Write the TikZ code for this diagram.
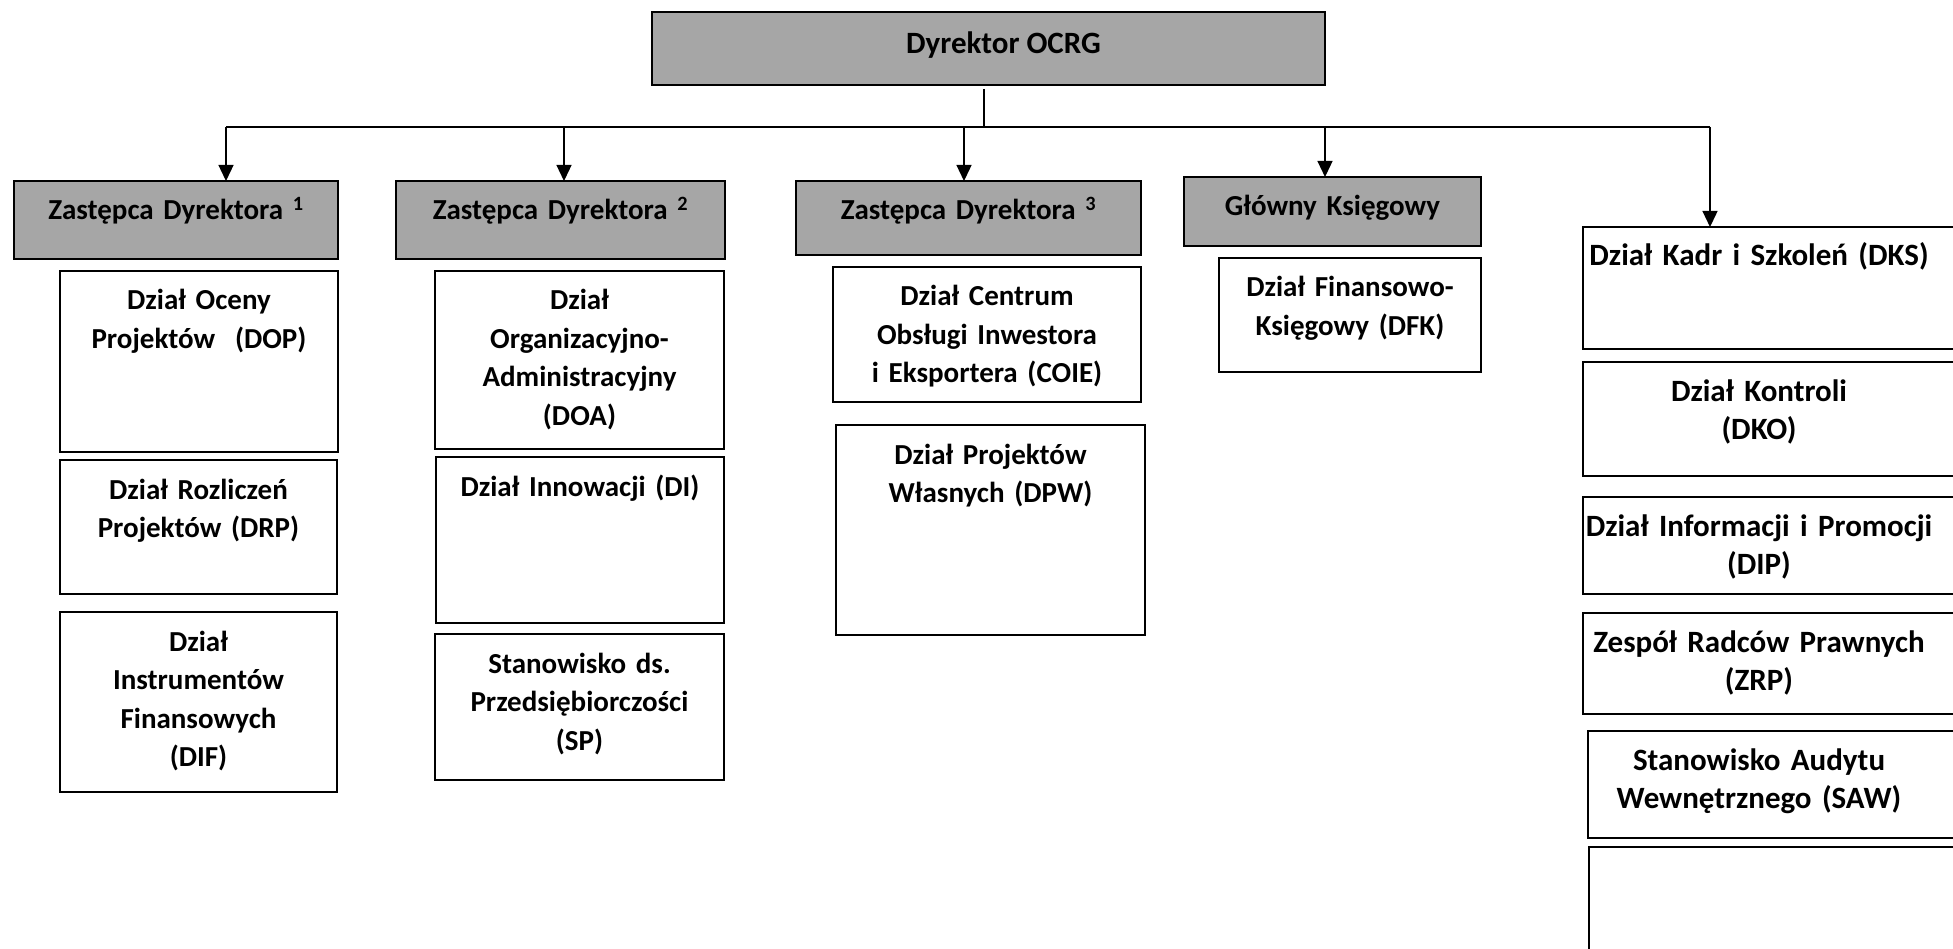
\documentclass[tikz,border=0pt]{standalone}
\usepackage{fontspec}
\setmainfont{Carlito}
\usetikzlibrary{arrows.meta,calc}
\definecolor{hdr}{HTML}{A6A6A6}
\tikzset{
  basebox/.style={draw=black, line width=2pt, inner sep=0pt, outer sep=0pt},
  hbox/.style={basebox, fill=hdr},
  wbox/.style={basebox, fill=white},
  txt/.style={font=\fontsize{29}{38.5}\selectfont\bfseries, align=center, inner sep=0pt, anchor=base},
  rtxt/.style={txt, font=\fontsize{31}{38.5}\selectfont\bfseries},
  conn/.style={line width=1.3pt, black},
  arr/.style={conn, -{Triangle[width=15pt,length=16pt]}},
}
\newcommand{\mkbox}[6]{%
  \node[#2, anchor=north west, minimum width={(#5)-(#3)}, minimum height={(#6)-(#4)}] (#1) at (#3,#4) {};}
\newcommand{\mktxt}[3]{%
  \node[txt, text width=400pt] (#1-t) at ([yshift=-#2pt]#1.north) {#3};}
\newcommand{\mkrtxt}[3]{%
  \node[rtxt, text width=400pt] (#1-t) at ([yshift=-39pt,xshift=#2pt]#1.north west) {#3};}
\begin{document}
\begin{tikzpicture}[x=1pt,y=-1pt]
\useasboundingbox (0,0) rectangle (1953,949);
\clip (0,0) rectangle (1953,949);
\fill[white] (0,0) rectangle (1953,949);

% top
\mkbox{dyr}{hbox}{652}{12}{1325}{85}
\node[rtxt, anchor=center] (dyr-t) at ([yshift=3pt,xshift=15pt]dyr.center) {Dyrektor OCRG};

% second level
\mkbox{zd1}{hbox}{14}{181}{338}{259}
\mktxt{zd1}{39}{Zastępca Dyrektora \textsuperscript{1}}
\mkbox{zd2}{hbox}{396}{181}{725}{259}
\mktxt{zd2}{39}{Zastępca Dyrektora \textsuperscript{2}}
\mkbox{zd3}{hbox}{796}{181}{1141}{255}
\mktxt{zd3}{39}{Zastępca Dyrektora \textsuperscript{3}}
\mkbox{gk}{hbox}{1184}{177}{1481}{246}
\mktxt{gk}{39}{Główny Księgowy}

% column 1
\mkbox{dop}{wbox}{60}{271}{338}{452}
\mktxt{dop}{39}{Dział Oceny\\Projektów\hspace{0.35em} (DOP)}
\mkbox{drp}{wbox}{60}{460}{337}{594}
\mktxt{drp}{39}{Dział Rozliczeń\\Projektów (DRP)}
\mkbox{dif}{wbox}{60}{612}{337}{792}
\mktxt{dif}{39}{Dział\\Instrumentów\\Finansowych\\(DIF)}

% column 2
\mkbox{doa}{wbox}{435}{271}{724}{449}
\mktxt{doa}{39}{Dział\\Organizacyjno-\\Administracyjny\\(DOA)}
\mkbox{di}{wbox}{436}{457}{724}{623}
\mktxt{di}{39}{Dział Innowacji (DI)}
\mkbox{sp}{wbox}{435}{634}{724}{780}
\mktxt{sp}{39}{Stanowisko ds.\\Przedsiębiorczości\\(SP)}

% column 3
\mkbox{coie}{wbox}{833}{267}{1141}{402}
\mktxt{coie}{39}{Dział Centrum\\Obsługi Inwestora\\i Eksportera (COIE)}
\mkbox{dpw}{wbox}{836}{425}{1145}{635}
\mktxt{dpw}{39}{Dział Projektów\\Własnych (DPW)}

% column 4
\mkbox{dfk}{wbox}{1219}{258}{1481}{372}
\mktxt{dfk}{39}{Dział Finansowo-\\Księgowy (DFK)}

% column 5
\mkbox{dks}{wbox}{1583}{227}{1975}{349}
\mkrtxt{dks}{176}{Dział Kadr i Szkoleń (DKS)}
\mkbox{dko}{wbox}{1583}{362}{1975}{476}
\mkrtxt{dko}{176}{Dział Kontroli\\(DKO)}
\mkbox{dip}{wbox}{1583}{497}{1975}{594}
\mkrtxt{dip}{176}{Dział Informacji i Promocji\\(DIP)}
\mkbox{zrp}{wbox}{1583}{613}{1975}{714}
\mkrtxt{zrp}{176}{Zespół Radców Prawnych\\(ZRP)}
\mkbox{saw}{wbox}{1588}{731}{1975}{838}
\mkrtxt{saw}{171}{Stanowisko Audytu\\Wewnętrznego (SAW)}
\mkbox{emp}{wbox}{1589}{847}{1975}{990}

% connectors
\coordinate (bd) at (984,127);
\coordinate (b1) at (226,127);
\coordinate (b2) at (564,127);
\coordinate (b3) at (964,127);
\coordinate (b4) at (1325,127);
\coordinate (b5) at (1710,127);
\draw[conn] ([yshift=-4pt]bd |- dyr.south) -- (bd);
\draw[conn] (b1) -- (b5);
\draw[arr] (b1) -- (b1 |- zd1.north);
\draw[arr] (b2) -- (b2 |- zd2.north);
\draw[arr] (b3) -- (b3 |- zd3.north);
\draw[arr] (b4) -- (b4 |- gk.north);
\draw[arr] (b5) -- (b5 |- dks.north);
\end{tikzpicture}
\end{document}
